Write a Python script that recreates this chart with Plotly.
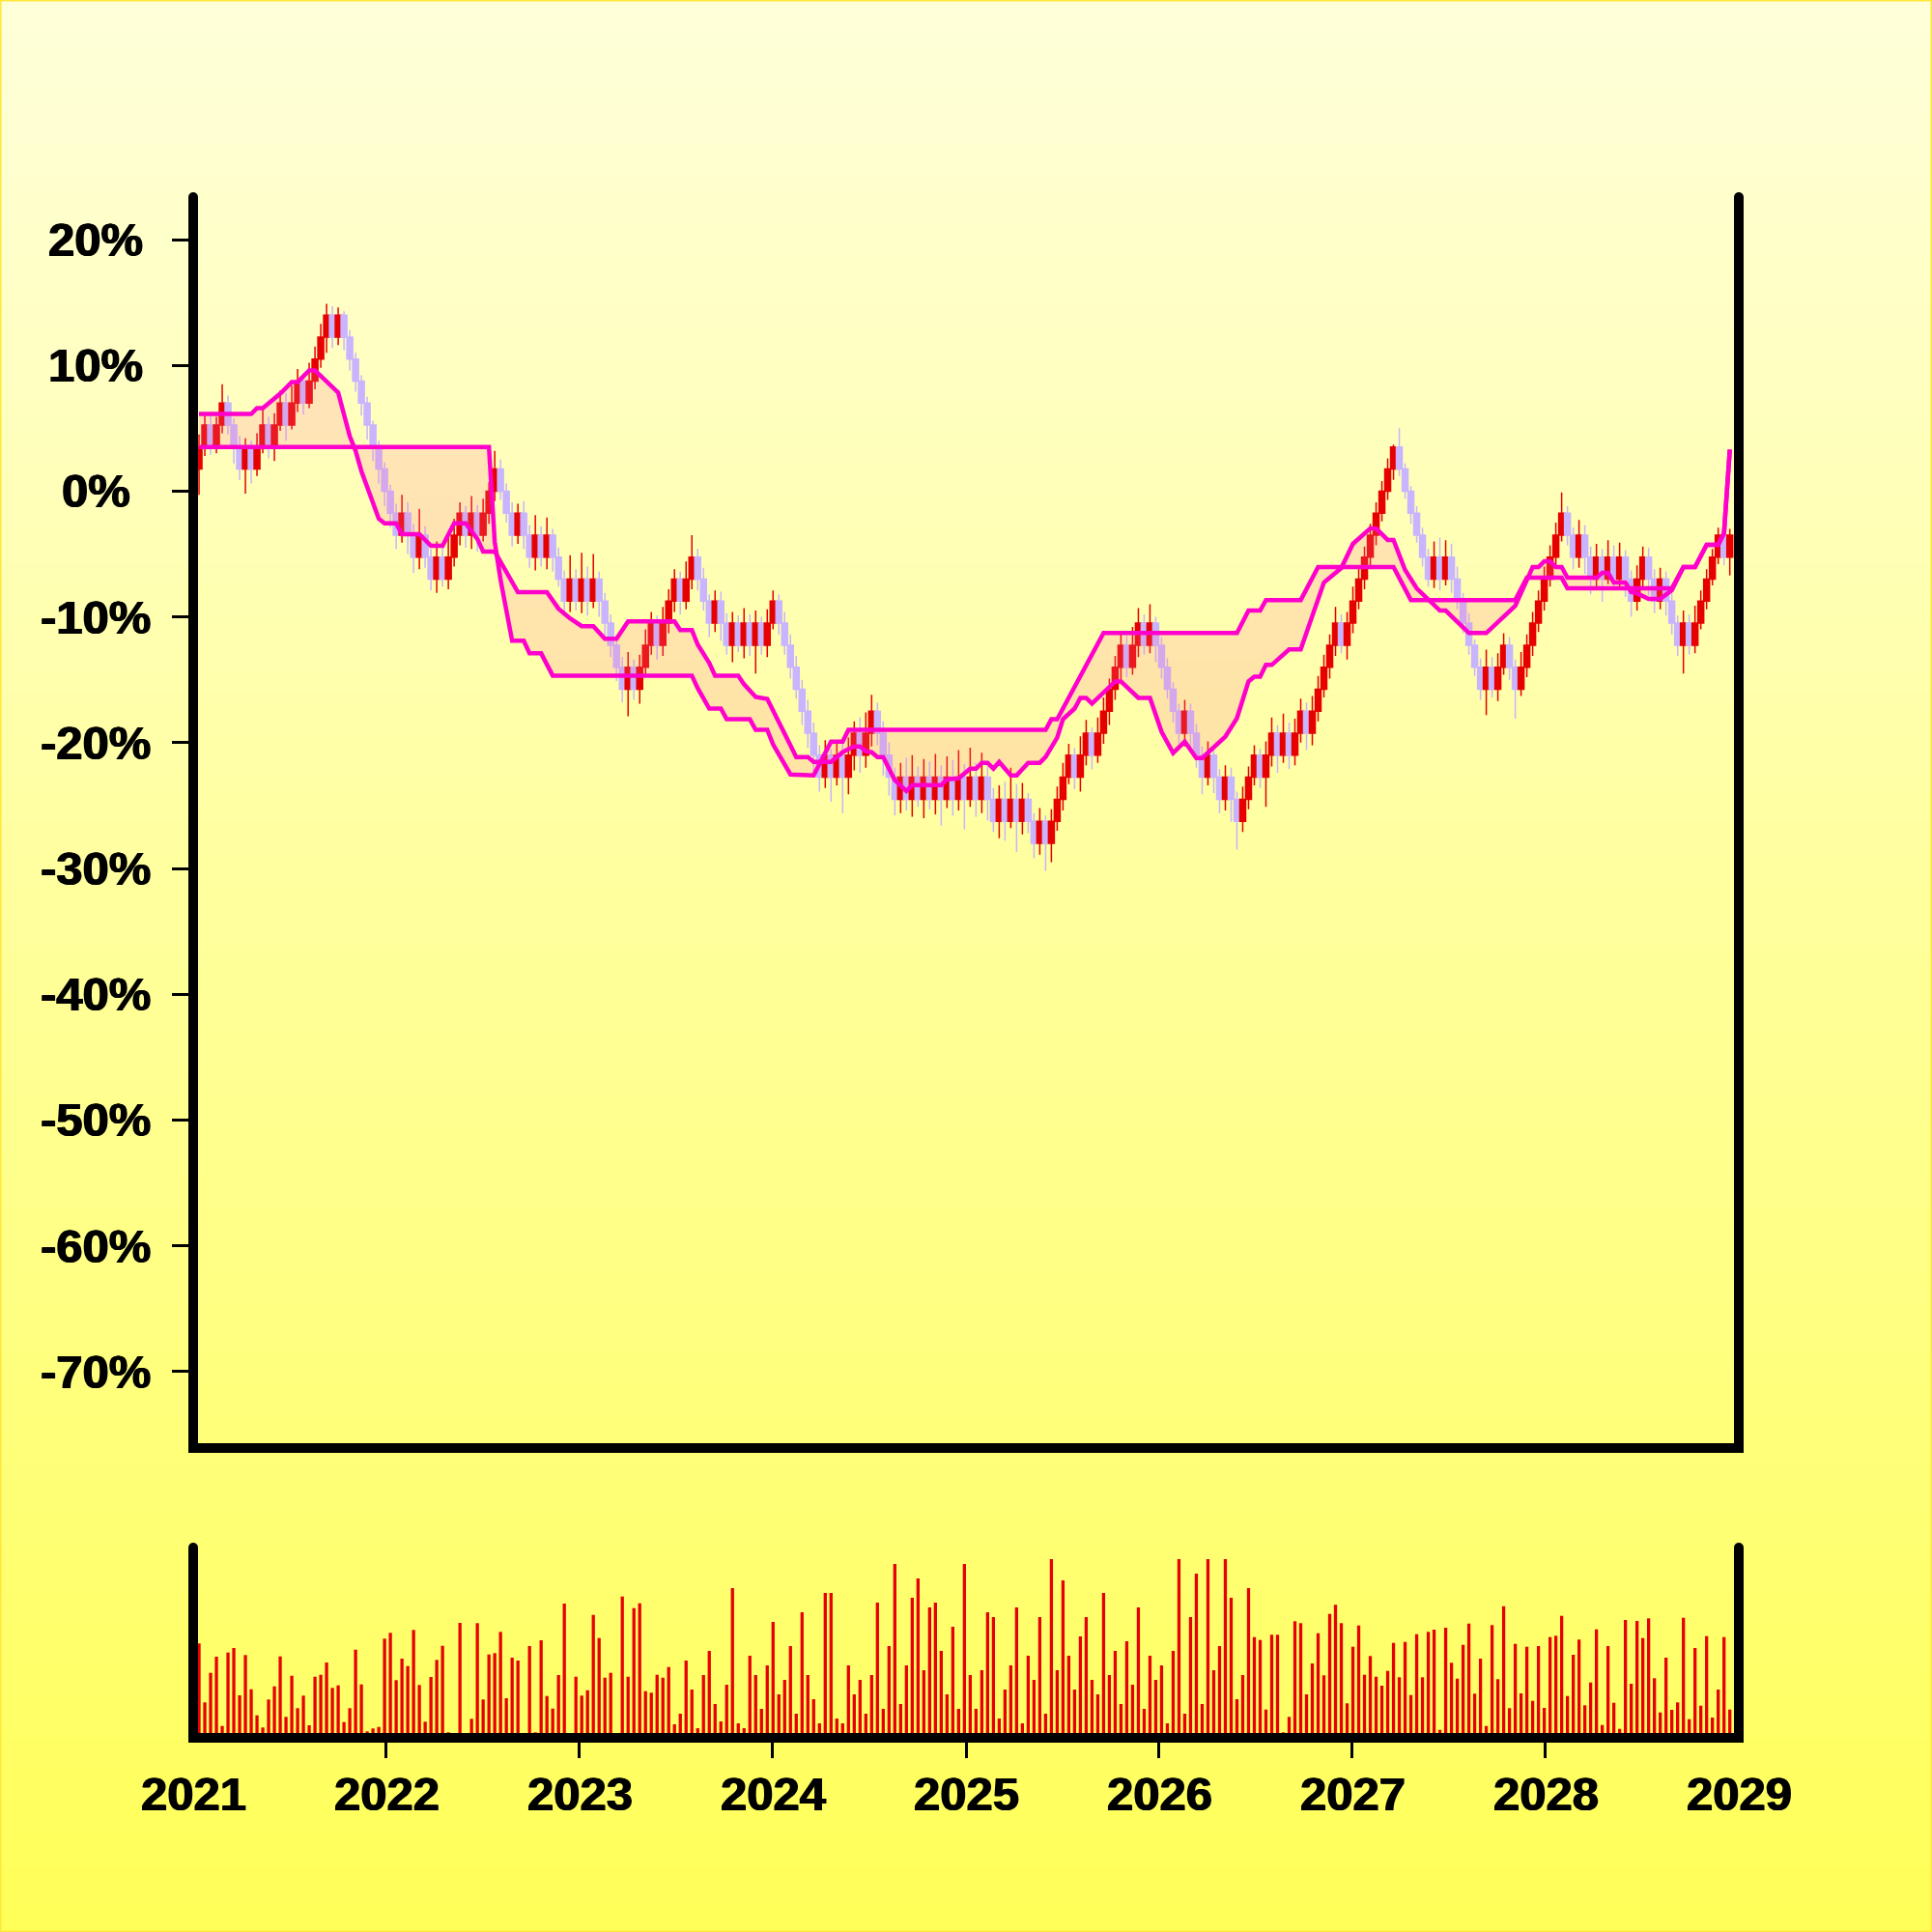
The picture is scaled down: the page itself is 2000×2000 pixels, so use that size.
import pandas as pd
import plotly.graph_objects as go

# ---------------- data ----------------
DATES = pd.date_range("2021-01-12", "2028-12-15", periods=265)

OPEN = [
    1.75, 3.5, 5.25, 3.5, 5.25, 7, 5.25, 3.5, 1.75, 3.5,
    1.75, 3.5, 5.25, 3.5, 5.25, 7, 5.25, 7, 8.75, 7,
    8.75, 10.5, 12.25, 14, 12.25, 14, 12.25, 10.5, 8.75, 7,
    5.25, 3.5, 1.75, 0, -1.75, -3.5, -1.75, -3.5, -5.25, -3.5,
    -5.25, -7, -5.25, -7, -5.25, -3.5, -1.75, -3.5, -1.75, -3.5,
    -1.75, 0, 1.75, 0, -1.75, -3.5, -1.75, -3.5, -5.25, -3.5,
    -5.25, -3.5, -5.25, -7, -8.75, -7, -8.75, -7, -8.75, -7,
    -8.75, -10.5, -12.25, -14, -15.75, -14, -15.75, -14, -12.25, -10.5,
    -12.25, -10.5, -8.75, -7, -8.75, -7, -5.25, -7, -8.75, -10.5,
    -8.75, -10.5, -12.25, -10.5, -12.25, -10.5, -12.25, -10.5, -12.25, -10.5,
    -8.75, -10.5, -12.25, -14, -15.75, -17.5, -19.25, -21, -22.75, -21,
    -22.75, -21, -22.75, -21, -19.25, -21, -19.25, -17.5, -19.25, -21,
    -22.75, -24.5, -22.75, -24.5, -22.75, -24.5, -22.75, -24.5, -22.75, -24.5,
    -22.75, -24.5, -22.75, -24.5, -22.75, -24.5, -22.75, -24.5, -26.25, -24.5,
    -26.25, -24.5, -26.25, -24.5, -26.25, -28, -26.25, -28, -26.25, -24.5,
    -22.75, -21, -22.75, -21, -19.25, -21, -19.25, -17.5, -15.75, -14,
    -12.25, -14, -12.25, -10.5, -12.25, -10.5, -12.25, -14, -15.75, -17.5,
    -19.25, -17.5, -19.25, -21, -22.75, -21, -22.75, -24.5, -22.75, -24.5,
    -26.25, -24.5, -22.75, -21, -22.75, -21, -19.25, -21, -19.25, -21,
    -19.25, -17.5, -19.25, -17.5, -15.75, -14, -12.25, -10.5, -12.25, -10.5,
    -8.75, -7, -5.25, -3.5, -1.75, 0, 1.75, 3.5, 1.75, 0,
    -1.75, -3.5, -5.25, -7, -5.25, -7, -5.25, -7, -8.75, -10.5,
    -12.25, -14, -15.75, -14, -15.75, -14, -12.25, -14, -15.75, -14,
    -12.25, -10.5, -8.75, -7, -5.25, -3.5, -1.75, -3.5, -5.25, -3.5,
    -5.25, -7, -5.25, -7, -5.25, -7, -5.25, -7, -8.75, -7,
    -5.25, -7, -8.75, -7, -8.75, -10.5, -12.25, -10.5, -12.25, -10.5,
    -8.75, -7, -5.25, -3.5, -5.25,
]
CLOSE = [
    3.5, 5.25, 3.5, 5.25, 7, 5.25, 3.5, 1.75, 3.5, 1.75,
    3.5, 5.25, 3.5, 5.25, 7, 5.25, 7, 8.75, 7, 8.75,
    10.5, 12.25, 14, 12.25, 14, 12.25, 10.5, 8.75, 7, 5.25,
    3.5, 1.75, 0, -1.75, -3.5, -1.75, -3.5, -5.25, -3.5, -5.25,
    -7, -5.25, -7, -5.25, -3.5, -1.75, -3.5, -1.75, -3.5, -1.75,
    0, 1.75, 0, -1.75, -3.5, -1.75, -3.5, -5.25, -3.5, -5.25,
    -3.5, -5.25, -7, -8.75, -7, -8.75, -7, -8.75, -7, -8.75,
    -10.5, -12.25, -14, -15.75, -14, -15.75, -14, -12.25, -10.5, -12.25,
    -10.5, -8.75, -7, -8.75, -7, -5.25, -7, -8.75, -10.5, -8.75,
    -10.5, -12.25, -10.5, -12.25, -10.5, -12.25, -10.5, -12.25, -10.5, -8.75,
    -10.5, -12.25, -14, -15.75, -17.5, -19.25, -21, -22.75, -21, -22.75,
    -21, -22.75, -21, -19.25, -21, -19.25, -17.5, -19.25, -21, -22.75,
    -24.5, -22.75, -24.5, -22.75, -24.5, -22.75, -24.5, -22.75, -24.5, -22.75,
    -24.5, -22.75, -24.5, -22.75, -24.5, -22.75, -24.5, -26.25, -24.5, -26.25,
    -24.5, -26.25, -24.5, -26.25, -28, -26.25, -28, -26.25, -24.5, -22.75,
    -21, -22.75, -21, -19.25, -21, -19.25, -17.5, -15.75, -14, -12.25,
    -14, -12.25, -10.5, -12.25, -10.5, -12.25, -14, -15.75, -17.5, -19.25,
    -17.5, -19.25, -21, -22.75, -21, -22.75, -24.5, -22.75, -24.5, -26.25,
    -24.5, -22.75, -21, -22.75, -21, -19.25, -21, -19.25, -21, -19.25,
    -17.5, -19.25, -17.5, -15.75, -14, -12.25, -10.5, -12.25, -10.5, -8.75,
    -7, -5.25, -3.5, -1.75, 0, 1.75, 3.5, 1.75, 0, -1.75,
    -3.5, -5.25, -7, -5.25, -7, -5.25, -7, -8.75, -10.5, -12.25,
    -14, -15.75, -14, -15.75, -14, -12.25, -14, -15.75, -14, -12.25,
    -10.5, -8.75, -7, -5.25, -3.5, -1.75, -3.5, -5.25, -3.5, -5.25,
    -7, -5.25, -7, -5.25, -7, -5.25, -7, -8.75, -7, -5.25,
    -7, -8.75, -7, -8.75, -10.5, -12.25, -10.5, -12.25, -10.5, -8.75,
    -7, -5.25, -3.5, -5.25, -3.5,
]
HIGH = [
    4.5, 6.0, 6.3, 5.9, 8.5, 7.6, 5.8, 4.4, 4.2, 4.0,
    4.6, 6.5, 5.9, 6.2, 8.0, 7.8, 8.4, 9.7, 9.4, 10.2,
    11.5, 13.3, 14.9, 14.7, 14.6, 14.3, 12.8, 11.0, 9.2, 7.5,
    5.6, 4.0, 2.3, 0.5, -1.0, -0.3, -0.9, -2.6, -1.4, -2.8,
    -4.6, -4.0, -4.4, -3.5, -2.2, -0.9, -1.2, -0.4, -1.1, -0.6,
    0.7, 3.2, 2.5, 0.6, -0.9, -1.0, -0.8, -2.7, -1.9, -2.8,
    -2.1, -3.0, -4.5, -6.3, -5.1, -6.2, -4.9, -6.0, -5.0, -6.4,
    -8.1, -9.8, -11.5, -13.2, -12.8, -13.4, -13.0, -11.0, -9.6, -9.9,
    -9.2, -7.8, -6.2, -6.4, -5.6, -3.5, -4.6, -6.1, -8.2, -7.9,
    -8.0, -9.7, -9.6, -9.9, -9.3, -9.8, -9.5, -10.0, -9.4, -7.9,
    -8.2, -9.6, -11.4, -13.1, -15.0, -16.6, -18.4, -20.2, -19.8, -20.5,
    -19.9, -20.1, -19.6, -18.3, -18.0, -17.6, -16.2, -16.8, -18.3, -20.0,
    -22.0, -21.6, -21.2, -21.0, -21.9, -21.3, -21.5, -20.9, -21.8, -21.1,
    -21.4, -20.6, -21.7, -20.4, -21.6, -20.8, -21.9, -23.6, -23.4, -23.1,
    -22.0, -23.3, -23.2, -24.0, -25.6, -25.2, -25.8, -25.3, -23.5, -21.6,
    -20.1, -20.4, -19.5, -18.2, -18.8, -18.0, -16.4, -14.9, -13.1, -11.2,
    -11.5, -10.8, -9.3, -9.8, -9.0, -10.0, -11.6, -13.3, -15.2, -16.9,
    -16.6, -16.9, -18.5, -20.3, -19.9, -20.6, -22.1, -21.8, -22.0, -23.9,
    -23.5, -21.9, -20.2, -20.5, -19.9, -18.0, -18.6, -17.7, -18.4, -18.1,
    -16.5, -16.8, -16.3, -14.7, -13.0, -11.4, -9.2, -9.8, -9.6, -7.6,
    -6.1, -4.4, -2.6, -0.9, 0.8, 2.6, 3.7, 5.0, 2.2, 0.4,
    -1.2, -2.9, -4.6, -4.0, -3.7, -3.9, -4.2, -6.0, -8.1, -9.7,
    -11.8, -13.3, -12.6, -13.2, -12.9, -11.3, -11.6, -13.4, -12.8, -11.4,
    -9.6, -7.9, -6.0, -4.3, -2.5, -0.1, -1.2, -2.9, -2.3, -2.7,
    -4.4, -4.2, -4.6, -3.9, -4.3, -4.1, -4.7, -6.3, -5.9, -4.4,
    -4.5, -6.2, -6.1, -6.4, -8.1, -9.9, -9.5, -9.8, -9.1, -7.9,
    -6.2, -4.6, -2.9, -2.6, -3.0,
]
LOW = [
    -0.3, 2.8, 2.9, 3.0, 4.6, 4.5, 2.2, 0.9, -0.2, 0.6,
    1.2, 3.0, 2.6, 2.4, 4.8, 4.0, 4.9, 6.3, 6.1, 6.6,
    8.1, 9.8, 11.0, 11.4, 11.6, 11.2, 9.6, 7.9, 6.0, 4.1,
    2.4, 0.6, -1.2, -2.9, -4.6, -4.1, -5.0, -6.5, -6.2, -6.1,
    -7.9, -8.1, -7.6, -7.8, -6.0, -4.3, -4.5, -4.6, -4.8, -4.0,
    -2.6, -0.8, -0.7, -2.5, -4.4, -4.2, -4.6, -6.1, -6.3, -6.0,
    -6.2, -6.4, -7.6, -9.8, -9.6, -9.5, -9.7, -9.9, -9.3, -10.0,
    -11.6, -13.2, -15.1, -16.8, -17.9, -16.6, -16.9, -14.8, -13.0, -13.4,
    -13.1, -11.3, -9.6, -9.8, -9.4, -7.8, -7.9, -9.5, -11.6, -11.2,
    -11.9, -13.0, -13.6, -12.8, -13.3, -13.1, -14.5, -13.0, -13.2, -11.0,
    -11.4, -13.0, -14.9, -16.5, -18.6, -20.4, -22.3, -23.9, -23.6, -24.7,
    -23.4, -25.6, -24.1, -22.2, -22.4, -22.0, -20.3, -20.2, -22.6, -24.2,
    -25.8, -25.6, -25.4, -25.9, -25.1, -26.0, -25.3, -25.7, -26.6, -25.2,
    -25.8, -25.4, -26.9, -25.1, -25.9, -25.6, -26.2, -27.1, -27.6, -27.8,
    -26.8, -28.7, -27.3, -27.2, -29.2, -28.9, -30.2, -29.5, -27.0, -25.4,
    -23.3, -23.7, -23.9, -21.8, -22.1, -21.6, -20.1, -18.6, -16.6, -15.0,
    -14.8, -14.6, -13.2, -13.0, -12.9, -13.6, -14.9, -16.5, -18.4, -20.1,
    -20.3, -20.7, -22.0, -24.1, -23.4, -24.0, -25.6, -25.4, -26.3, -28.5,
    -27.1, -25.3, -23.4, -23.6, -25.1, -21.9, -22.4, -21.6, -22.1, -21.8,
    -20.0, -20.6, -20.2, -18.3, -16.4, -14.9, -13.1, -12.9, -13.4, -11.3,
    -9.4, -7.8, -6.0, -4.3, -2.4, -0.7, 0.9, 1.2, -0.6, -2.6,
    -4.1, -6.0, -7.6, -7.7, -7.9, -7.5, -8.1, -9.4, -11.3, -13.0,
    -14.7, -16.6, -17.8, -16.4, -16.7, -14.6, -15.0, -18.1, -16.3, -14.8,
    -13.1, -11.2, -9.5, -7.6, -5.9, -4.0, -4.3, -6.2, -6.1, -6.6,
    -8.2, -7.6, -8.8, -7.4, -7.9, -7.7, -8.4, -10.0, -9.5, -7.6,
    -8.3, -9.7, -9.4, -9.9, -11.4, -13.1, -14.5, -13.0, -12.9, -11.0,
    -9.4, -7.5, -5.8, -5.9, -6.7,
]
VOLUME = [
    92.7, 31.7, 62.3, 79, 7.3, 83.3, 88, 39, 80.7, 45.3,
    18.3, 5.7, 34.7, 48.3, 79.3, 16.7, 59.3, 25.7, 38.7, 8,
    58.3, 60.3, 73, 46.7, 49.3, 11.3, 25.7, 86.3, 50.3, 1.7,
    4.7, 6.3, 97.7, 103.7, 54.7, 77, 69.3, 106.7, 49.7, 11.7,
    58, 75.7, 90.3, 0.7, 0, 114, 0, 14.7, 113.7, 34.7,
    81.3, 82.7, 104.7, 36, 78, 75, 0, 90, 0.7, 96,
    38.3, 25.3, 60, 134, 0, 58.3, 38.7, 44.3, 122.3, 98.3,
    57.3, 62.3, 0, 141.3, 58.3, 129.3, 134.3, 43.3, 41.7, 60.3,
    57.3, 68.3, 9, 20, 75, 45, 5, 60, 85, 30,
    12, 50, 150, 10, 5, 80, 60, 25, 70, 115,
    40, 55, 90, 20, 125, 60, 35, 10, 145, 145,
    15, 10, 70, 40, 55, 20, 60, 135, 25, 90,
    175, 30, 70, 140, 160, 65, 130, 135, 85, 40,
    110, 25, 175, 60, 25, 65, 125, 120, 15, 45,
    70, 130, 10, 80, 55, 120, 20, 180, 65, 158,
    80, 45, 100, 120, 55, 40, 145, 60, 85, 30,
    95, 50, 130, 25, 80, 55, 70, 10, 85, 180,
    20, 120, 165, 30, 180, 65, 90, 180, 140, 35,
    60, 150, 99.3, 96.3, 24.3, 101.7, 101.7, 0.7, 16.7, 115.7,
    113.7, 40, 72, 103.3, 59.7, 123.3, 132.7, 113.7, 30.7, 89.3,
    111.3, 60.3, 79.7, 58.3, 49, 64.3, 93.3, 57.7, 94.3, 39.3,
    102.3, 57.7, 104.7, 107, 3.3, 109, 72.7, 56.3, 91.3, 113.3,
    40.7, 77, 7.3, 111.7, 55.7, 131.3, 25.7, 92.3, 41, 89.3,
    33.3, 90, 26, 99.3, 100.7, 121.3, 38.3, 81, 96.7, 28.7,
    52.3, 107.3, 8.3, 90, 31.3, 4.3, 117, 51, 116, 98.3,
    118.7, 56.7, 21.3, 78, 24, 31.7, 119.3, 14.3, 88, 28.3,
    100.3, 16, 45, 99.3, 24.3,
]

# cloud lines: (candle index, value %)
SPAN_A_IDX = [0, 9, 10, 11, 14, 16, 17, 19, 20, 24, 26, 27, 28, 30, 31, 32, 34, 35, 38, 40,
              42, 44, 46, 48, 49, 51, 54, 55, 60, 62, 64, 66, 68, 70, 72, 73, 74, 82, 83, 85,
              86, 88, 89, 93, 94, 96, 98, 99, 103, 105, 106, 109, 111, 112, 113, 114, 115, 116, 117, 118,
              120, 122, 123, 128, 129, 131, 133, 134, 135, 136, 137, 138, 140, 141, 143, 145, 146, 148, 149, 151,
              152, 153, 154, 158, 159, 162, 164, 166, 168, 170, 172, 173, 177, 179, 181, 182, 183, 184, 185, 188,
              190, 194, 197, 199, 202, 203, 205, 206, 208, 210, 214, 215, 219, 222, 227, 230, 231, 232, 233, 234,
              235, 236, 241, 242, 243, 244, 246, 247, 248, 250, 252, 254, 256, 258, 260, 262, 263, 264]
SPAN_A_VAL = [6.13, 6.13, 6.6, 6.6, 7.75, 8.67, 8.67, 9.6, 9.6, 7.83, 4.36, 3.2, 1.59, -0.96, -2.19, -2.57, -2.57, -3.42, -3.42, -4.35,
              -4.35, -2.57, -2.57, -3.8, -4.8, -4.8, -7.27, -8.04, -8.04, -9.35, -10.12, -10.74, -10.74, -11.74, -11.74, -10.97, -10.35, -10.35, -11.05, -11.05,
              -12.2, -13.67, -14.67, -14.67, -15.36, -16.36, -16.52, -17.44, -21.14, -21.14, -21.53, -21.53, -20.76, -20.52, -20.3, -20.3, -20.68, -20.76, -21.14, -21.14,
              -22.99, -23.84, -23.38, -23.38, -22.91, -22.84, -22.07, -22.07, -21.6, -21.6, -22.07, -21.53, -22.6, -22.6, -21.6, -21.6, -21.14, -19.6, -18.14, -17.29,
              -16.44, -16.44, -16.9, -15.13, -15.13, -16.44, -16.44, -19.14, -20.83, -19.91, -21.22, -21.22, -19.52, -18.06, -15.13, -14.75, -14.75, -13.82, -13.82, -12.59,
              -12.59, -7.27, -6.12, -4.19, -2.96, -2.96, -3.88, -3.88, -6.27, -7.73, -9.5, -9.5, -11.28, -11.28, -9.12, -6.04, -6.04, -5.58, -5.58, -6.04,
              -6.04, -6.89, -6.89, -6.5, -6.5, -7.27, -7.27, -8.04, -8.12, -8.58, -8.58, -7.89, -6.04, -6.04, -4.27, -4.27, -3.34, 3.3]
SPAN_B_IDX = [0, 50, 51, 52, 54, 56, 57, 59, 61, 85, 86, 88, 90, 91, 95, 96, 98, 99, 102, 106,
              109, 111, 112, 146, 147, 148, 156, 179, 181, 183, 184, 190, 193, 206, 209, 227, 229, 235, 236, 254,
              256, 258, 260, 262, 263, 264]
SPAN_B_VAL = [3.51, 3.51, -4.04, -7.04, -11.9, -11.9, -12.9, -12.9, -14.67, -14.67, -15.67, -17.29, -17.29, -18.14, -18.14, -18.98, -18.98, -20.14, -22.53, -22.6,
              -19.91, -19.91, -18.98, -18.98, -18.14, -18.14, -11.28, -11.28, -9.5, -9.5, -8.66, -8.66, -6.04, -6.04, -8.66, -8.66, -6.89, -6.89, -7.73, -7.73,
              -6.04, -6.04, -4.27, -4.27, -3.34, 3.3]

Y_TICKS = [20, 10, 0, -10, -20, -30, -40, -50, -60, -70]
Y_TICK_TEXT = ["20%", "10%", "0%", "-10%", "-20%", "-30%", "-40%", "-50%", "-60%", "-70%"]
X_YEARS = ["2021", "2022", "2023", "2024", "2025", "2026", "2027", "2028", "2029"]

# ---------------- styling ----------------
INC = "#E60000"
DEC = "#C8B4FF"
SPAN_COLOR = "#FF00CC"
CLOUD_FILL = "rgba(255,120,160,0.2)"
FONT = "Liberation Sans, Arial, Helvetica, sans-serif"
W = H = 2000
LW = 10


def fx(p):
    return p / W


def fy(p):
    return 1 - p / H


X_DOM = [fx(205), fx(1795)]
MAIN_DOM = [fy(1494), fy(204)]
VOL_DOM = [fy(1794), fy(1602)]
X_RANGE = ["2021-01-10 03:00", "2028-12-22 21:00"]

fig = go.Figure()
fig.add_trace(go.Candlestick(
    x=DATES, open=OPEN, high=HIGH, low=LOW, close=CLOSE,
    increasing=dict(line=dict(color=INC, width=1.5), fillcolor=INC),
    decreasing=dict(line=dict(color=DEC, width=1.5), fillcolor=DEC),
    whiskerwidth=0, xaxis="x", yaxis="y", showlegend=False, hoverinfo="skip"))
fig.add_trace(go.Scatter(
    x=[DATES[i] for i in SPAN_B_IDX], y=SPAN_B_VAL, mode="lines",
    line=dict(color=SPAN_COLOR, width=4.5), xaxis="x", yaxis="y", showlegend=False, hoverinfo="skip"))
fig.add_trace(go.Scatter(
    x=[DATES[i] for i in SPAN_A_IDX], y=SPAN_A_VAL, mode="lines",
    line=dict(color=SPAN_COLOR, width=4.5), fill="tonexty", fillcolor=CLOUD_FILL,
    xaxis="x", yaxis="y", showlegend=False, hoverinfo="skip"))
fig.add_trace(go.Bar(
    x=DATES, y=VOLUME, marker=dict(color=INC, line=dict(width=0)),
    width=6 * 86400000, xaxis="x2", yaxis="y2", showlegend=False, hoverinfo="skip"))

axis_common = dict(showline=True, linewidth=LW, linecolor="black", showgrid=False, zeroline=False)

shapes = []
N = 120
for k in range(N):
    t = (k + 0.5) / N
    b = round(218 + (88 - 218) * t)
    shapes.append(dict(type="rect", xref="paper", yref="paper", x0=0, x1=1,
                       y0=1 - (k + 1) / N - 0.002, y1=1 - k / N,
                       fillcolor=f"rgb(255,255,{b})", line=dict(width=0), layer="below"))
shapes.append(dict(type="rect", xref="paper", yref="paper", x0=0, x1=1, y0=0, y1=1,
                   line=dict(color="#FFE83A", width=3), fillcolor="rgba(0,0,0,0)", layer="above"))
for cx, cy in [(200, 204), (1800, 204), (200, 1602), (1800, 1602)]:
    shapes.append(dict(type="circle", xref="paper", yref="paper",
                       x0=fx(cx - LW / 2), x1=fx(cx + LW / 2), y0=fy(cy + LW / 2), y1=fy(cy - LW / 2),
                       fillcolor="black", line=dict(width=0), layer="above"))

label_font = dict(family=FONT, size=49, color="black", weight="bold",
                  shadow="0.8px 0 0 #000, -0.8px 0 0 #000")
annotations = []
for v, t in zip(Y_TICKS, Y_TICK_TEXT):
    annotations.append(dict(x=fx(99), xref="paper", y=v, yref="y", text=t, showarrow=False,
                            xanchor="center", yanchor="middle", font=label_font))
for k, yr in enumerate(X_YEARS):
    annotations.append(dict(x=fx(200 + 200 * k), xref="paper", y=fy(1857), yref="paper", text=yr,
                            showarrow=False, xanchor="center", yanchor="middle", font=label_font))

fig.update_layout(
    width=W, height=H, autosize=False,
    margin=dict(l=0, r=0, t=0, b=0),
    paper_bgcolor="rgb(255,255,218)", plot_bgcolor="rgba(0,0,0,0)",
    showlegend=False, hovermode=False,
    boxgap=0.0, boxgroupgap=0.0,
    xaxis=dict(domain=X_DOM, anchor="y", type="date", range=X_RANGE, ticks="", showticklabels=False,
               rangeslider=dict(visible=False), **axis_common),
    yaxis=dict(domain=MAIN_DOM, anchor="x", range=[-75.70, 23.38], mirror=True, ticks="outside",
               ticklen=17, tickwidth=3, tickcolor="black", tickvals=Y_TICKS, showticklabels=False,
               **axis_common),
    xaxis2=dict(domain=X_DOM, anchor="y2", type="date", range=X_RANGE, ticks="outside", ticklen=16,
                tickwidth=3, tickcolor="black", tickvals=[f"{y}-01-01" for y in X_YEARS[1:-1]],
                showticklabels=False, **axis_common),
    yaxis2=dict(domain=VOL_DOM, anchor="x2", range=[0, 192], mirror=True, ticks="",
                showticklabels=False, **axis_common),
    shapes=shapes, annotations=annotations,
)

fig.write_html("out.html", config={"displayModeBar": False, "staticPlot": True},
               post_script="document.body.style.margin='0px';document.body.style.overflow='hidden';")
